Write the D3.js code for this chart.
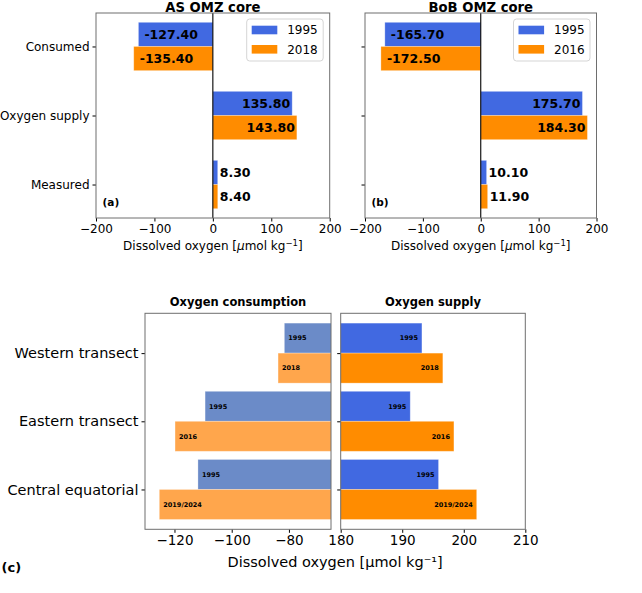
<!DOCTYPE html>
<html>
<head>
<meta charset="utf-8">
<script src="https://cdn.jsdelivr.net/npm/d3@7"></script>
<style>
  body { margin: 0; background: #fff; }
  svg, svg text { font-family: "DejaVu Sans", sans-serif; }
</style>
</head>
<body>
<div id="chart"></div>
<script>
// ---- data ----
const topCategories = ["Consumed", "Oxygen supply", "Measured"];
const topTicks = [-200, -100, 0, 100, 200];

const asYears = ["1995", "2018"];
const as1995 = [-127.4, 135.8, 8.3];
const as2018 = [-135.4, 143.8, 8.4];

const bobYears = ["1995", "2016"];
const bob1995 = [-165.7, 175.7, 10.1];
const bob2016 = [-172.5, 184.3, 11.9];

const transects = ["Western transect", "Eastern transect", "Central equatorial"];
const recentYears = ["2018", "2016", "2019/2024"];
const consumption1995 = [-81.6, -109.3, -111.8];
const consumptionRecent = [-83.8, -119.8, -125.3];
const supply1995 = [193.2, 191.3, 195.9];
const supplyRecent = [196.6, 198.4, 202.1];
const consumptionTicks = [-120, -100, -80];
const supplyTicks = [180, 190, 200, 210];

const colors = {
  blue: "#4169e1",
  orange: "#ff8c00",
  blueLight: "#6b8bc8",
  orangeLight: "#ffa64c",
};

const FONT = "DejaVu Sans";

const svg = d3
  .select("#chart")
  .append("svg")
  .attr("width", 642)
  .attr("height", 593)
  .attr("font-family", FONT);

let clipId = 0;

class BarPanel {
  constructor(config) {
    this.config = config;
    this.initVis();
  }

  initVis() {
    let vis = this;
    let c = vis.config;

    vis.x = d3.scaleLinear().domain(c.xDomain).range([c.left, c.right]);
    vis.y = d3.scaleLinear().domain(c.yDomain).range([c.top, c.bottom]);

    vis.g = svg.append("g");

    clipId += 1;
    vis.clip = "clip" + clipId;
    vis.g
      .append("clipPath")
      .attr("id", vis.clip)
      .append("rect")
      .attr("x", c.left)
      .attr("y", c.top)
      .attr("width", c.right - c.left)
      .attr("height", c.bottom - c.top);

    vis.barLayer = vis.g.append("g").attr("clip-path", `url(#${vis.clip})`);

    // x axis
    vis.g
      .append("g")
      .attr("transform", `translate(0,${c.bottom})`)
      .call(
        d3.axisBottom(vis.x).tickValues(c.xTicks).tickSize(3.5).tickPadding(3)
      )
      .attr("font-family", FONT)
      .call((g) => g.select(".domain").remove())
      .call((g) =>
        g.selectAll("text").attr("font-size", c.tickFont).attr("fill", "#000")
      );

    // y axis
    vis.g
      .append("g")
      .attr("transform", `translate(${c.left},0)`)
      .call(
        d3
          .axisLeft(vis.y)
          .tickValues(d3.range(c.categories.length))
          .tickFormat((i) => (c.showLabels ? c.categories[i] : ""))
          .tickSize(3.5)
          .tickPadding(3)
      )
      .attr("font-family", FONT)
      .call((g) => g.select(".domain").remove())
      .call((g) =>
        g
          .selectAll("text")
          .attr("font-size", c.yFont)
          .attr("fill", "#000")
      );

    if (c.title) {
      vis.g
        .append("text")
        .attr("x", (c.left + c.right) / 2)
        .attr("y", c.titleY)
        .attr("text-anchor", "middle")
        .attr("font-weight", "bold")
        .attr("font-size", c.titleFont)
        .text(c.title);
    }
  }

  drawBars(values, labels, color, offset, height, labelStyle) {
    let vis = this;
    let base = vis.x(0);

    let rows = values.map((v, i) => ({ v: v, i: i, label: labels[i] }));

    vis.barLayer
      .selectAll(null)
      .data(rows)
      .join("rect")
      .attr("x", (d) => Math.min(base, vis.x(d.v)))
      .attr("y", (d) => vis.y(d.i + offset))
      .attr("width", (d) => Math.abs(vis.x(d.v) - base))
      .attr("height", (d) => vis.y(height) - vis.y(0))
      .attr("fill", color)
      .attr("stroke", "#fff")
      .attr("stroke-opacity", 0.35)
      .attr("stroke-width", 0.8);

    vis.g
      .selectAll(null)
      .data(rows)
      .join("text")
      .attr("x", (d) => labelStyle.x(vis.x(d.v), d.v))
      .attr("y", (d) => vis.y(d.i + offset + height / 2))
      .attr("dy", "0.36em")
      .attr("text-anchor", (d) => labelStyle.anchor(d.v))
      .attr("font-weight", "bold")
      .attr("font-size", labelStyle.size)
      .text((d) => d.label);
  }

  finish() {
    let vis = this;
    let c = vis.config;
    vis.g
      .append("rect")
      .attr("x", c.left)
      .attr("y", c.top)
      .attr("width", c.right - c.left)
      .attr("height", c.bottom - c.top)
      .attr("fill", "none")
      .attr("stroke", "#6e6e6e")
      .attr("stroke-width", 1);
  }
}

// ---- top row: (a) and (b) ----
const topLabelStyle = {
  size: "12.5px",
  x: (px, v) => (v < 0 ? px + 6 : v > 50 ? px - 2 : px + 2),
  anchor: (v) => (v > 50 ? "end" : "start"),
};

function topPanel(left, right, title, years, first, second, letter) {
  let panel = new BarPanel({
    left: left,
    right: right,
    top: 13,
    bottom: 218,
    xDomain: [-200, 200],
    yDomain: [-0.485, 2.485],
    xTicks: topTicks,
    categories: topCategories,
    showLabels: letter === "(a)",
    tickFont: "12px",
    yFont: "12px",
    title: title,
    titleY: 11.8,
    titleFont: "13.2px",
  });

  panel.drawBars(first, first.map((v) => v.toFixed(2)), colors.blue, -0.35, 0.35, topLabelStyle);
  panel.drawBars(second, second.map((v) => v.toFixed(2)), colors.orange, 0, 0.35, topLabelStyle);

  // zero line
  panel.g
    .append("line")
    .attr("x1", panel.x(0))
    .attr("x2", panel.x(0))
    .attr("y1", 13)
    .attr("y2", 218)
    .attr("stroke", "#000")
    .attr("stroke-width", 1.1);

  panel.finish();

  // x label with mathtext style
  let xl = panel.g
    .append("text")
    .attr("x", (left + right) / 2)
    .attr("y", 250)
    .attr("text-anchor", "middle")
    .attr("font-size", "12px");
  xl.append("tspan").text("Dissolved oxygen [");
  xl.append("tspan").attr("font-style", "italic").text("\u03bc");
  xl.append("tspan").text("mol kg");
  xl.append("tspan").attr("dy", -4.5).attr("font-size", "8.5px").text("\u22121");
  xl.append("tspan").attr("dy", 4.5).text("]");

  // legend
  let lx = right - 83;
  let legend = panel.g.append("g").attr("transform", `translate(${lx},19)`);
  legend
    .append("rect")
    .attr("width", 76.5)
    .attr("height", 42)
    .attr("rx", 3)
    .attr("fill", "#fff")
    .attr("fill-opacity", 0.8)
    .attr("stroke", "#d5d5d5");
  [colors.blue, colors.orange].forEach((col, i) => {
    legend
      .append("rect")
      .attr("x", 5)
      .attr("y", 6.7 + i * 19.3)
      .attr("width", 25.6)
      .attr("height", 8.6)
      .attr("fill", col);
    legend
      .append("text")
      .attr("x", 40.5)
      .attr("y", 11 + i * 19.3)
      .attr("dy", "0.36em")
      .attr("font-size", "12px")
      .text(years[i]);
  });

  panel.g
    .append("text")
    .attr("x", left + 6.5)
    .attr("y", 205.5)
    .attr("font-weight", "bold")
    .attr("font-size", "10.5px")
    .text(letter);
}

topPanel(96, 329.7, "AS OMZ core", asYears, as1995, as2018, "(a)");
topPanel(365, 596.5, "BoB OMZ core", bobYears, bob1995, bob2016, "(b)");

// ---- bottom row: (c) ----
const bottomCommon = {
  top: 313.3,
  bottom: 529.3,
  yDomain: [-0.584, 2.584],
  categories: transects,
  tickFont: "13.5px",
  yFont: "14.5px",
  titleY: 306,
  titleFont: "11.5px",
};

let consumption = new BarPanel(
  Object.assign({}, bottomCommon, {
    left: 145,
    right: 331,
    xDomain: [-130.3, -65.3],
    xTicks: consumptionTicks,
    showLabels: true,
    title: "Oxygen consumption",
  })
);
const leftLabelStyle = {
  size: "6.5px",
  x: (px) => px + 4,
  anchor: () => "start",
};
consumption.drawBars(consumption1995, transects.map(() => "1995"), colors.blueLight, -0.44, 0.44, leftLabelStyle);
consumption.drawBars(consumptionRecent, recentYears, colors.orangeLight, 0, 0.44, leftLabelStyle);
consumption.finish();

let supply = new BarPanel(
  Object.assign({}, bottomCommon, {
    left: 340.7,
    right: 525.3,
    xDomain: [180, 210],
    xTicks: supplyTicks,
    showLabels: false,
    title: "Oxygen supply",
  })
);
const rightLabelStyle = {
  size: "6.5px",
  x: (px) => px - 4,
  anchor: () => "end",
};
supply.drawBars(supply1995, transects.map(() => "1995"), colors.blue, -0.44, 0.44, rightLabelStyle);
supply.drawBars(supplyRecent, recentYears, colors.orange, 0, 0.44, rightLabelStyle);
supply.finish();

svg
  .append("text")
  .attr("x", (145 + 525.3) / 2)
  .attr("y", 567)
  .attr("text-anchor", "middle")
  .attr("font-size", "14.5px")
  .text("Dissolved oxygen [\u03bcmol kg\u207b\u00b9]");

svg
  .append("text")
  .attr("x", 1.5)
  .attr("y", 572)
  .attr("font-weight", "bold")
  .attr("font-size", "13px")
  .text("(c)");
</script>
</body>
</html>
